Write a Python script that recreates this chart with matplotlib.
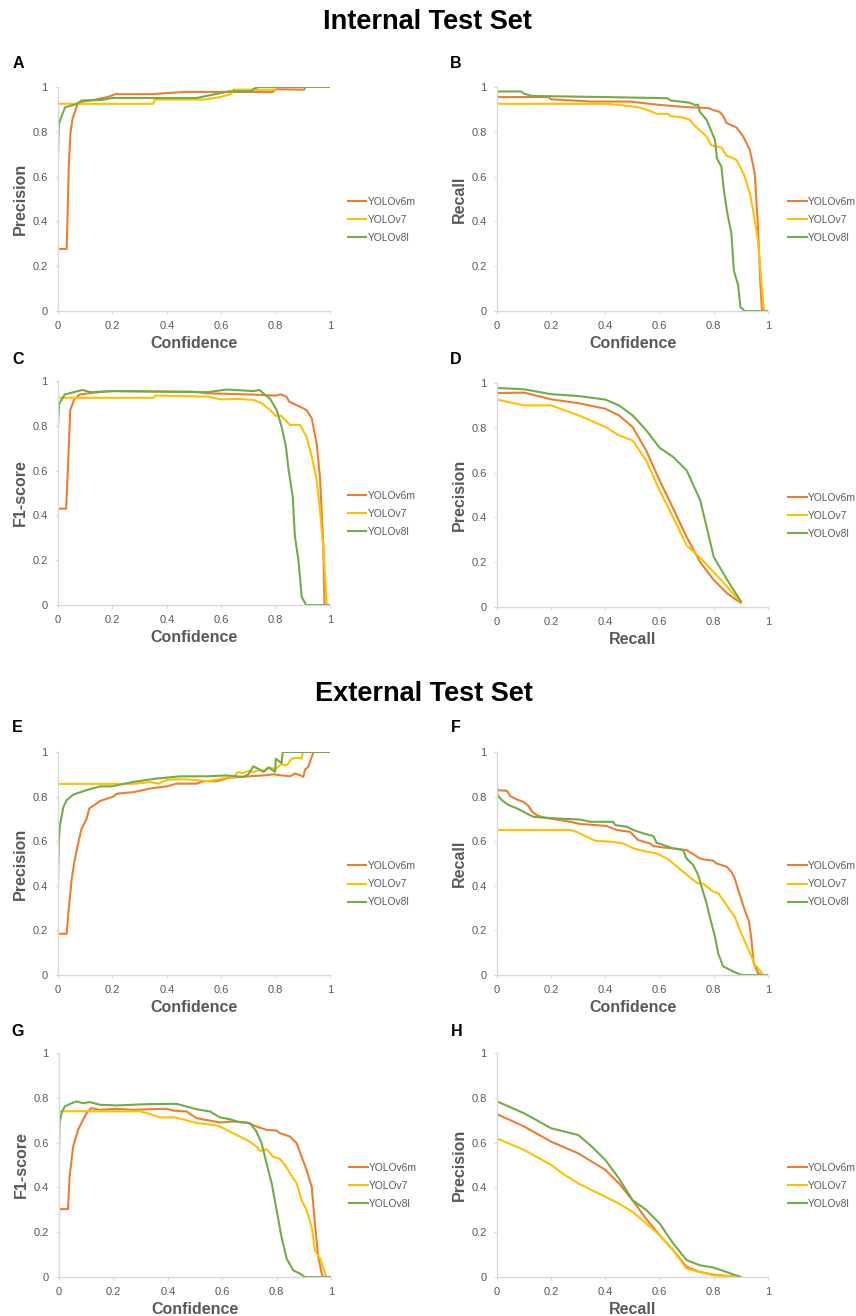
import matplotlib
matplotlib.use("Agg")
import matplotlib.pyplot as plt

plt.rcParams['font.family'] = ['Liberation Sans', 'DejaVu Sans']

W, H = 856, 1316
fig = plt.figure(figsize=(W / 100, H / 100), dpi=100)

models = ["YOLOv6m", "YOLOv7", "YOLOv8l"]
colors = ["#ED7D31", "#FFC000", "#70AD47"]
ticks = [0, 0.2, 0.4, 0.6, 0.8, 1.0]
tick_labels = ["0", "0.2", "0.4", "0.6", "0.8", "1"]

# ---------------- Internal: A (Precision vs Confidence) ----------------
A_v6m_x = [0, 0.032, 0.04, 0.046, 0.054, 0.071, 0.09, 0.13, 0.17, 0.19, 0.21, 0.35, 0.4, 0.47, 0.645, 0.79, 0.80, 0.905, 0.91]
A_v6m_y = [0.277, 0.277, 0.66, 0.797, 0.861, 0.921, 0.935, 0.942, 0.952, 0.958, 0.968, 0.968, 0.973, 0.978, 0.978, 0.978, 0.99, 0.988, 1.0]
A_v7_x = [0, 0.35, 0.355, 0.54, 0.596, 0.638, 0.645, 0.80, 0.805, 0.83]
A_v7_y = [0.925, 0.925, 0.944, 0.944, 0.955, 0.969, 0.988, 0.988, 1.0, 1.0]
A_v8l_x = [0, 0.003, 0.01, 0.026, 0.068, 0.087, 0.16, 0.2, 0.51, 0.57, 0.632, 0.712, 0.718, 0.737, 1.0]
A_v8l_y = [0.694, 0.831, 0.861, 0.909, 0.924, 0.94, 0.942, 0.951, 0.951, 0.966, 0.981, 0.981, 0.991, 1.0, 1.0]

# ---------------- Internal: B (Recall vs Confidence) ----------------
B_v6m_x = [0, 0.19, 0.2, 0.35, 0.49, 0.6, 0.7, 0.78, 0.8, 0.82, 0.834, 0.847, 0.883, 0.908, 0.933, 0.951, 0.963, 0.972, 0.978]
B_v6m_y = [0.955, 0.955, 0.945, 0.935, 0.935, 0.92, 0.91, 0.906, 0.896, 0.89, 0.872, 0.839, 0.82, 0.78, 0.72, 0.615, 0.376, 0.12, 0.0]
B_v7_x = [0, 0.4, 0.45, 0.52, 0.55, 0.59, 0.63, 0.64, 0.68, 0.71, 0.736, 0.773, 0.79, 0.828, 0.847, 0.883, 0.9, 0.914, 0.933, 0.945, 0.963, 0.975, 0.985]
B_v7_y = [0.925, 0.925, 0.92, 0.91, 0.9, 0.88, 0.88, 0.87, 0.865, 0.855, 0.82, 0.78, 0.74, 0.73, 0.694, 0.675, 0.637, 0.6, 0.525, 0.45, 0.316, 0.137, 0.0]
B_v8l_x = [0, 0.09, 0.1, 0.13, 0.4, 0.63, 0.64, 0.71, 0.73, 0.742, 0.748, 0.773, 0.79, 0.804, 0.812, 0.828, 0.837, 0.85, 0.865, 0.874, 0.89, 0.898, 0.914, 1.0]
B_v8l_y = [0.98, 0.98, 0.97, 0.96, 0.955, 0.95, 0.94, 0.93, 0.92, 0.921, 0.89, 0.854, 0.806, 0.764, 0.68, 0.645, 0.54, 0.436, 0.346, 0.18, 0.115, 0.018, 0.0, 0.0]

# ---------------- Internal: C (F1 vs Confidence) ----------------
C_v6m_x = [0, 0.03, 0.036, 0.045, 0.06, 0.08, 0.15, 0.2, 0.5, 0.55, 0.7, 0.8, 0.82, 0.84, 0.85, 0.89, 0.914, 0.933, 0.951, 0.963, 0.975, 0.98]
C_v6m_y = [0.43, 0.43, 0.6, 0.87, 0.92, 0.94, 0.95, 0.955, 0.952, 0.945, 0.94, 0.935, 0.94, 0.93, 0.908, 0.885, 0.87, 0.833, 0.72, 0.573, 0.275, 0.0]
C_v7_x = [0, 0.35, 0.36, 0.55, 0.6, 0.67, 0.72, 0.75, 0.78, 0.8, 0.82, 0.853, 0.89, 0.914, 0.933, 0.951, 0.963, 0.975, 0.988]
C_v7_y = [0.925, 0.925, 0.935, 0.93, 0.918, 0.92, 0.915, 0.9, 0.87, 0.845, 0.845, 0.804, 0.804, 0.75, 0.662, 0.558, 0.424, 0.26, 0.0]
C_v8l_x = [0, 0.005, 0.025, 0.09, 0.12, 0.2, 0.55, 0.62, 0.72, 0.74, 0.76, 0.78, 0.804, 0.822, 0.838, 0.847, 0.863, 0.871, 0.884, 0.896, 0.912, 1.0]
C_v8l_y = [0.81, 0.9, 0.94, 0.96, 0.95, 0.955, 0.95, 0.962, 0.955, 0.96, 0.94, 0.92, 0.87, 0.796, 0.707, 0.61, 0.484, 0.305, 0.2, 0.037, 0.0, 0.0]

# ---------------- Internal: D (Precision vs Recall) ----------------
D_v6m_x = [0, 0.1, 0.2, 0.3, 0.4, 0.45, 0.5, 0.55, 0.6, 0.65, 0.7, 0.75, 0.8, 0.85, 0.9]
D_v6m_y = [0.955, 0.957, 0.927, 0.91, 0.885, 0.855, 0.804, 0.7, 0.565, 0.44, 0.312, 0.2, 0.12, 0.06, 0.018]
D_v7_x = [0, 0.1, 0.2, 0.3, 0.4, 0.45, 0.5, 0.55, 0.6, 0.65, 0.7, 0.75, 0.8, 0.85, 0.9]
D_v7_y = [0.926, 0.9, 0.9, 0.856, 0.804, 0.766, 0.744, 0.655, 0.52, 0.4, 0.275, 0.22, 0.156, 0.09, 0.02]
D_v8l_x = [0, 0.1, 0.2, 0.3, 0.4, 0.45, 0.5, 0.55, 0.6, 0.65, 0.7, 0.75, 0.8, 0.85, 0.9]
D_v8l_y = [0.978, 0.972, 0.95, 0.942, 0.926, 0.9, 0.856, 0.79, 0.711, 0.67, 0.61, 0.476, 0.223, 0.12, 0.025]

# ---------------- External: E (Precision vs Confidence) ----------------
E_v6m_x = [0, 0.032, 0.038, 0.05, 0.059, 0.071, 0.087, 0.105, 0.115, 0.142, 0.154, 0.203, 0.216, 0.277, 0.338, 0.4, 0.436, 0.51, 0.534, 0.583, 0.632, 0.706, 0.767, 0.79, 0.853, 0.871, 0.89, 0.902, 0.908, 0.92, 0.933, 0.939]
E_v6m_y = [0.185, 0.185, 0.277, 0.426, 0.5, 0.575, 0.657, 0.70, 0.747, 0.769, 0.78, 0.80, 0.813, 0.82, 0.836, 0.846, 0.858, 0.858, 0.869, 0.869, 0.885, 0.891, 0.896, 0.90, 0.891, 0.903, 0.896, 0.888, 0.921, 0.933, 0.978, 1.0]
E_v7_x = [0, 0.27, 0.3, 0.34, 0.37, 0.4, 0.45, 0.5, 0.55, 0.58, 0.62, 0.65, 0.66, 0.68, 0.70, 0.72, 0.74, 0.76, 0.77, 0.80, 0.82, 0.84, 0.86, 0.88, 0.896, 0.90, 0.91]
E_v7_y = [0.857, 0.857, 0.86, 0.865, 0.858, 0.875, 0.878, 0.875, 0.87, 0.875, 0.885, 0.89, 0.91, 0.905, 0.915, 0.91, 0.92, 0.915, 0.93, 0.925, 0.945, 0.94, 0.97, 0.975, 0.97, 1.0, 1.0]
E_v8l_x = [0, 0.003, 0.007, 0.02, 0.032, 0.056, 0.105, 0.154, 0.2, 0.277, 0.363, 0.449, 0.547, 0.62, 0.681, 0.70, 0.718, 0.735, 0.755, 0.775, 0.798, 0.801, 0.822, 0.826, 1.0]
E_v8l_y = [0.42, 0.6, 0.672, 0.754, 0.784, 0.809, 0.829, 0.846, 0.846, 0.866, 0.881, 0.891, 0.891, 0.895, 0.888, 0.90, 0.936, 0.925, 0.911, 0.93, 0.911, 0.97, 0.95, 1.0, 1.0]

# ---------------- External: F (Recall vs Confidence) ----------------
F_v6m_x = [0, 0.037, 0.049, 0.074, 0.098, 0.117, 0.129, 0.147, 0.172, 0.221, 0.27, 0.307, 0.368, 0.405, 0.442, 0.491, 0.521, 0.564, 0.577, 0.613, 0.663, 0.699, 0.724, 0.748, 0.773, 0.798, 0.81, 0.847, 0.865, 0.877, 0.89, 0.902, 0.918, 0.93, 0.939, 0.947, 0.963, 0.975, 1.0]
F_v6m_y = [0.829, 0.826, 0.802, 0.787, 0.776, 0.757, 0.732, 0.717, 0.706, 0.697, 0.687, 0.677, 0.672, 0.668, 0.65, 0.642, 0.605, 0.59, 0.578, 0.572, 0.566, 0.56, 0.542, 0.523, 0.516, 0.513, 0.50, 0.486, 0.463, 0.434, 0.382, 0.337, 0.277, 0.24, 0.158, 0.054, 0.009, 0.0, 0.0]
F_v7_x = [0, 0.27, 0.294, 0.331, 0.362, 0.417, 0.466, 0.503, 0.54, 0.589, 0.626, 0.65, 0.687, 0.724, 0.742, 0.76, 0.798, 0.816, 0.834, 0.859, 0.877, 0.896, 0.92, 0.939, 0.951, 0.963, 0.982]
F_v7_y = [0.65, 0.65, 0.642, 0.62, 0.602, 0.598, 0.59, 0.568, 0.556, 0.545, 0.523, 0.50, 0.463, 0.426, 0.411, 0.41, 0.374, 0.367, 0.337, 0.292, 0.262, 0.203, 0.136, 0.083, 0.046, 0.031, 0.0]
F_v8l_x = [0, 0.002, 0.018, 0.043, 0.074, 0.11, 0.135, 0.172, 0.221, 0.307, 0.344, 0.429, 0.436, 0.479, 0.503, 0.54, 0.577, 0.589, 0.626, 0.65, 0.687, 0.699, 0.724, 0.742, 0.755, 0.773, 0.785, 0.804, 0.816, 0.834, 0.871, 0.902, 1.0]
F_v8l_y = [0.85, 0.806, 0.784, 0.762, 0.747, 0.724, 0.709, 0.706, 0.702, 0.697, 0.687, 0.687, 0.672, 0.665, 0.65, 0.635, 0.623, 0.593, 0.578, 0.568, 0.56, 0.523, 0.493, 0.449, 0.396, 0.322, 0.262, 0.173, 0.098, 0.039, 0.016, 0.0, 0.0]

# ---------------- External: G (F1 vs Confidence) ----------------
G_v6m_x = [0, 0.033, 0.039, 0.052, 0.07, 0.088, 0.103, 0.119, 0.15, 0.211, 0.272, 0.334, 0.395, 0.42, 0.469, 0.506, 0.542, 0.591, 0.64, 0.69, 0.726, 0.763, 0.80, 0.812, 0.849, 0.874, 0.892, 0.91, 0.929, 0.941, 0.953, 0.966, 0.972]
G_v6m_y = [0.303, 0.303, 0.448, 0.582, 0.657, 0.701, 0.734, 0.754, 0.746, 0.751, 0.746, 0.749, 0.751, 0.743, 0.739, 0.709, 0.701, 0.69, 0.694, 0.69, 0.672, 0.657, 0.654, 0.642, 0.627, 0.597, 0.537, 0.478, 0.403, 0.239, 0.09, 0.015, 0.0]
G_v7_x = [0, 0.297, 0.334, 0.371, 0.42, 0.456, 0.506, 0.567, 0.591, 0.628, 0.665, 0.702, 0.726, 0.739, 0.763, 0.788, 0.812, 0.831, 0.849, 0.874, 0.892, 0.91, 0.929, 0.941, 0.96, 0.972, 0.984]
G_v7_y = [0.74, 0.74, 0.728, 0.712, 0.713, 0.704, 0.687, 0.679, 0.672, 0.649, 0.627, 0.604, 0.582, 0.563, 0.57, 0.537, 0.527, 0.50, 0.463, 0.418, 0.343, 0.299, 0.224, 0.119, 0.082, 0.037, 0.0]
G_v8l_x = [0, 0.002, 0.009, 0.021, 0.039, 0.064, 0.088, 0.113, 0.15, 0.211, 0.272, 0.334, 0.432, 0.469, 0.506, 0.555, 0.591, 0.628, 0.665, 0.702, 0.726, 0.745, 0.763, 0.782, 0.80, 0.818, 0.837, 0.861, 0.886, 0.904, 1.0]
G_v8l_y = [0.56, 0.687, 0.731, 0.761, 0.772, 0.784, 0.776, 0.781, 0.769, 0.766, 0.769, 0.772, 0.773, 0.761, 0.749, 0.739, 0.713, 0.704, 0.691, 0.687, 0.649, 0.597, 0.507, 0.418, 0.299, 0.179, 0.082, 0.03, 0.015, 0.0, 0.0]

# ---------------- External: H (Precision vs Recall) ----------------
H_v6m_x = [0, 0.1, 0.2, 0.3, 0.4, 0.45, 0.5, 0.55, 0.6, 0.65, 0.7, 0.75, 0.8, 0.9]
H_v6m_y = [0.727, 0.672, 0.604, 0.552, 0.478, 0.418, 0.343, 0.26, 0.187, 0.12, 0.045, 0.022, 0.01, 0.0]
H_v7_x = [0, 0.1, 0.2, 0.25, 0.3, 0.35, 0.4, 0.45, 0.5, 0.55, 0.6, 0.65, 0.7, 0.8, 0.9]
H_v7_y = [0.619, 0.567, 0.50, 0.455, 0.418, 0.388, 0.358, 0.328, 0.291, 0.24, 0.187, 0.12, 0.037, 0.007, 0.0]
H_v8l_x = [0, 0.1, 0.2, 0.3, 0.35, 0.4, 0.45, 0.5, 0.55, 0.6, 0.65, 0.7, 0.75, 0.8, 0.9]
H_v8l_y = [0.784, 0.731, 0.664, 0.634, 0.582, 0.522, 0.44, 0.343, 0.30, 0.239, 0.15, 0.075, 0.052, 0.042, 0.0]

panels = [
    # letter, xlabel, ylabel, (x0,x1,ytop,ybot) in px, letter pos, series
    ("A", "Confidence", "Precision", (58, 330, 87, 311), (18, 63),
     [(A_v6m_x, A_v6m_y), (A_v7_x, A_v7_y), (A_v8l_x, A_v8l_y)]),
    ("B", "Confidence", "Recall", (497, 768, 87, 311), (456, 63),
     [(B_v6m_x, B_v6m_y), (B_v7_x, B_v7_y), (B_v8l_x, B_v8l_y)]),
    ("C", "Confidence", "F1-score", (58, 330, 381, 605), (18, 359),
     [(C_v6m_x, C_v6m_y), (C_v7_x, C_v7_y), (C_v8l_x, C_v8l_y)]),
    ("D", "Recall", "Precision", (497, 768, 383, 607), (456, 359),
     [(D_v6m_x, D_v6m_y), (D_v7_x, D_v7_y), (D_v8l_x, D_v8l_y)]),
    ("E", "Confidence", "Precision", (58, 330, 752, 975), (17, 728),
     [(E_v6m_x, E_v6m_y), (E_v7_x, E_v7_y), (E_v8l_x, E_v8l_y)]),
    ("F", "Confidence", "Recall", (497, 768, 752, 975), (456, 728),
     [(F_v6m_x, F_v6m_y), (F_v7_x, F_v7_y), (F_v8l_x, F_v8l_y)]),
    ("G", "Confidence", "F1-score", (59, 331, 1053, 1277), (18, 1031),
     [(G_v6m_x, G_v6m_y), (G_v7_x, G_v7_y), (G_v8l_x, G_v8l_y)]),
    ("H", "Recall", "Precision", (497, 768, 1053, 1277), (457, 1031),
     [(H_v6m_x, H_v6m_y), (H_v7_x, H_v7_y), (H_v8l_x, H_v8l_y)]),
]

GRAY = "#595959"
SPINE = "#D9D9D9"

for letter, xl, yl, (x0, x1, yt, yb), (lx, ly), series in panels:
    ax = fig.add_axes([x0 / W, 1 - yb / H, (x1 - x0) / W, (yb - yt) / H])
    for (xs, ys), c, m in zip(series, colors, models):
        ax.plot(xs, ys, color=c, lw=1.5, label=m, solid_joinstyle="round")
    ax.set_xlim(0, 1)
    ax.set_ylim(0, 1)
    ax.set_xticks(ticks)
    ax.set_xticklabels(tick_labels)
    ax.set_yticks(ticks)
    ax.set_yticklabels(tick_labels)
    for s in ["top", "right"]:
        ax.spines[s].set_visible(False)
    for s in ["left", "bottom"]:
        ax.spines[s].set_color(SPINE)
        ax.spines[s].set_linewidth(1.0)
    ax.tick_params(axis="both", direction="out", length=2.5, width=0.8,
                   color=SPINE, labelcolor=GRAY, labelsize=8, pad=5)
    ax.set_xlabel(xl, fontsize=11.5, fontweight="bold", color=GRAY)
    ax.set_ylabel(yl, fontsize=11.5, fontweight="bold", color=GRAY)
    wpx = x1 - x0
    hpx = yb - yt
    ax.xaxis.set_label_coords(0.5, -25 / hpx)
    ax.yaxis.set_label_coords(-30 / wpx, 0.5)
    ax.patch.set_alpha(0)
    leg = ax.legend(loc="center left",
                    bbox_to_anchor=((348 - 58) / 272 if x0 < 400 else (788 - 497) / 271, 0.407),
                    frameon=False, fontsize=7.4, handlelength=1.8, handletextpad=0.15,
                    labelspacing=0.8, borderpad=0, borderaxespad=0)
    for t in leg.get_texts():
        t.set_color(GRAY)
    fig.text(lx / W, 1 - ly / H, letter, fontsize=11.5, fontweight="bold",
             ha="center", va="center", color="black")

fig.text(427 / W, 1 - 22 / H, "Internal Test Set", fontsize=19.5, fontweight="bold",
         ha="center", va="center", color="black")
fig.text(424 / W, 1 - 694 / H, "External Test Set", fontsize=19.5, fontweight="bold",
         ha="center", va="center", color="black")

fig.savefig("out.png", dpi=100, facecolor="white")
